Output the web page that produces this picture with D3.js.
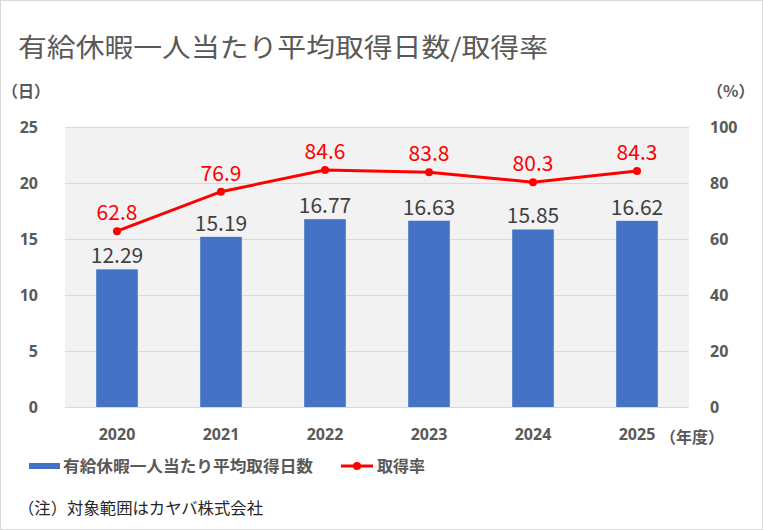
<!DOCTYPE html>
<html>
<head>
<meta charset="utf-8">
<script src="https://cdn.jsdelivr.net/npm/d3@7"></script>
<style>
  body { margin: 0; background: #fff; }
  svg text { font-family: "Noto Sans CJK JP", "Noto Sans", sans-serif; }
</style>
</head>
<body>
<div id="chart"></div>
<script>
var YEARS = ['2020', '2021', '2022', '2023', '2024', '2025'];
var DAYS = [12.29, 15.19, 16.77, 16.63, 15.85, 16.62];
var RATE = [62.8, 76.9, 84.6, 83.8, 80.3, 84.3];
var LEFT_TICKS = [0, 5, 10, 15, 20, 25];
var RIGHT_TICKS = [0, 20, 40, 60, 80, 100];

var W = 763, H = 530;
var plot = {left: 65, right: 689, top: 127, bottom: 407};

var svg = d3.select('#chart').append('svg')
    .attr('width', W).attr('height', H);

svg.append('rect')
    .attr('x', 0.5).attr('y', 0.5)
    .attr('width', W - 1).attr('height', H - 1)
    .attr('fill', '#fff').attr('stroke', '#d9d9d9');

var x = d3.scaleBand().domain(YEARS).range([plot.left, plot.right]).paddingInner(0.6).paddingOuter(0.3);
var yL = d3.scaleLinear().domain([0, 25]).range([plot.bottom, plot.top]);
var yR = d3.scaleLinear().domain([0, 100]).range([plot.bottom, plot.top]);
var mid = function(d){ return x(d) + x.bandwidth() / 2; };

// title
svg.append('text')
    .attr('x', 18).attr('y', 57)
    .attr('font-size', 26).attr('fill', '#595959')
    .attr('textLength', 530).attr('lengthAdjust', 'spacingAndGlyphs')
    .text('有給休暇一人当たり平均取得日数/取得率');

// plot bg
svg.append('rect')
    .attr('x', plot.left).attr('y', plot.top)
    .attr('width', plot.right - plot.left).attr('height', plot.bottom - plot.top)
    .attr('fill', '#f2f2f2');

// grid
svg.append('g').selectAll('line').data(LEFT_TICKS).enter().append('line')
    .attr('x1', plot.left).attr('x2', plot.right)
    .attr('y1', function(d){ return Math.round(yL(d)) + 0.5; })
    .attr('y2', function(d){ return Math.round(yL(d)) + 0.5; })
    .attr('stroke', '#d9d9d9').attr('stroke-width', 1);

// axes
var axisL = svg.append('g').attr('transform', 'translate(' + plot.left + ',0)')
    .call(d3.axisLeft(yL).tickValues(LEFT_TICKS).tickSize(0).tickPadding(27));
var axisR = svg.append('g').attr('transform', 'translate(' + plot.right + ',0)')
    .call(d3.axisRight(yR).tickValues(RIGHT_TICKS).tickSize(0).tickPadding(21));
var axisB = svg.append('g').attr('transform', 'translate(0,' + plot.bottom + ')')
    .call(d3.axisBottom(x).tickSize(0).tickPadding(22));
[axisL, axisR, axisB].forEach(function(a){
    a.select('.domain').remove();
    a.selectAll('text')
        .attr('font-size', 16).attr('font-weight', 'bold').attr('fill', '#595959')
        .style('font-family', '"Noto Sans", "Noto Sans CJK JP", sans-serif');
});
axisL.selectAll('text').attr('dy', '0.35em');
axisR.selectAll('text').attr('dy', '0.35em');

svg.append('text').attr('x', 660).attr('y', 443)
    .attr('font-size', 16).attr('font-weight', 'bold').attr('fill', '#595959')
    .text('（年度）');
svg.append('text').attr('x', 2).attr('y', 97)
    .attr('font-size', 16).attr('font-weight', 'bold').attr('fill', '#595959')
    .text('（日）');
svg.append('text').attr('x', 707).attr('y', 97)
    .attr('font-size', 16).attr('font-weight', 'bold').attr('fill', '#595959')
    .text('（%）');

// bars
svg.append('g').selectAll('rect').data(YEARS).enter().append('rect')
    .attr('x', function(d){ return x(d); })
    .attr('width', x.bandwidth())
    .attr('y', function(d, i){ return yL(DAYS[i]); })
    .attr('height', function(d, i){ return plot.bottom - yL(DAYS[i]); })
    .attr('fill', '#4472c4');

svg.append('g').selectAll('text').data(YEARS).enter().append('text')
    .attr('x', mid)
    .attr('y', function(d, i){ return yL(DAYS[i]) - 6; })
    .attr('text-anchor', 'middle')
    .attr('font-size', 21).attr('fill', '#404040')
    .text(function(d, i){ return DAYS[i].toFixed(2); });

// line
var line = d3.line()
    .x(function(d){ return mid(d); })
    .y(function(d, i){ return yR(RATE[i]); });
svg.append('path').datum(YEARS)
    .attr('d', line)
    .attr('fill', 'none').attr('stroke', '#ff0000').attr('stroke-width', 3);
svg.append('g').selectAll('circle').data(YEARS).enter().append('circle')
    .attr('cx', mid)
    .attr('cy', function(d, i){ return yR(RATE[i]); })
    .attr('r', 4).attr('fill', '#ff0000');
svg.append('g').selectAll('text').data(YEARS).enter().append('text')
    .attr('x', mid)
    .attr('y', function(d, i){ return yR(RATE[i]) - 11; })
    .attr('text-anchor', 'middle')
    .attr('font-size', 21).attr('fill', '#ff0000')
    .text(function(d, i){ return RATE[i].toFixed(1); });

// legend
var lg = svg.append('g');
lg.append('rect').attr('x', 29).attr('y', 463).attr('width', 31).attr('height', 6).attr('fill', '#4472c4');
lg.append('text').attr('x', 63).attr('y', 472)
    .attr('font-size', 16).attr('font-weight', 'bold').attr('fill', '#595959')
    .attr('textLength', 250).attr('lengthAdjust', 'spacingAndGlyphs')
    .text('有給休暇一人当たり平均取得日数');
lg.append('line').attr('x1', 341).attr('x2', 373).attr('y1', 466).attr('y2', 466)
    .attr('stroke', '#ff0000').attr('stroke-width', 3);
lg.append('circle').attr('cx', 357).attr('cy', 466).attr('r', 4).attr('fill', '#ff0000');
lg.append('text').attr('x', 377).attr('y', 472)
    .attr('font-size', 16).attr('font-weight', 'bold').attr('fill', '#595959')
    .attr('textLength', 48).attr('lengthAdjust', 'spacingAndGlyphs')
    .text('取得率');

// note
svg.append('text').attr('x', 18).attr('y', 514)
    .attr('font-size', 16).attr('fill', '#262626')
    .attr('textLength', 245).attr('lengthAdjust', 'spacingAndGlyphs')
    .text('（注）対象範囲はカヤバ株式会社');
</script>
</body>
</html>
